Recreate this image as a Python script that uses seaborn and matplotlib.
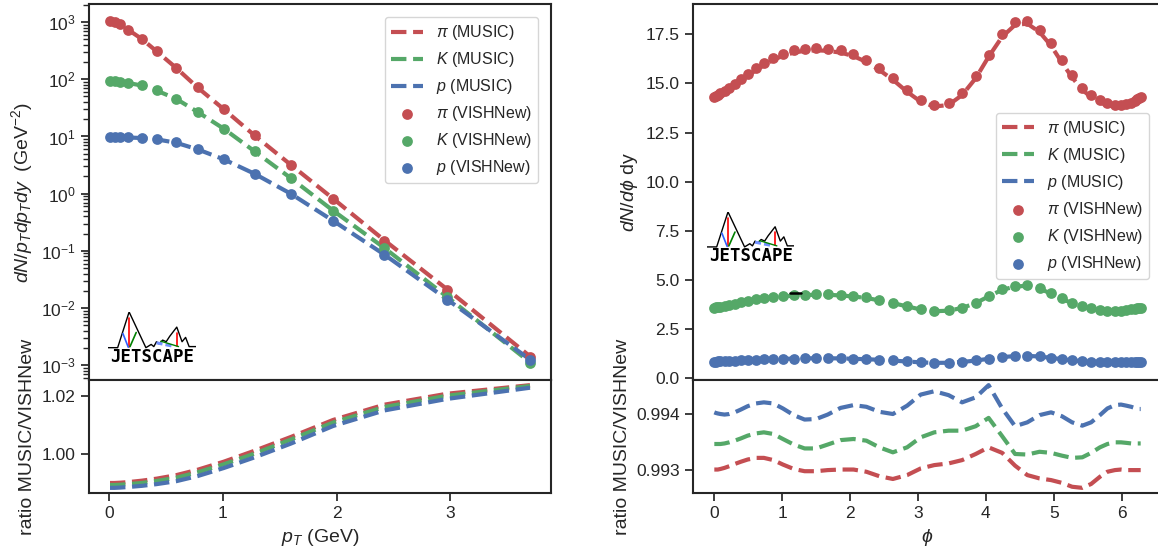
import matplotlib
matplotlib.use('Agg')
import matplotlib.pyplot as plt
import seaborn as sns
import numpy as np

sns.set_theme(style='ticks', palette='deep')
plt.rcParams['font.family'] = ['Liberation Sans', 'DejaVu Sans']
plt.rcParams['mathtext.fontset'] = 'custom'
plt.rcParams['mathtext.rm'] = 'Liberation Sans'
plt.rcParams['mathtext.it'] = 'Liberation Sans:italic'
plt.rcParams['axes.linewidth'] = 1.5

# ---- pT spectra (left) ----
pt = [0.01, 0.05, 0.10, 0.17, 0.29, 0.42, 0.59, 0.78, 1.01, 1.28, 1.60, 1.97, 2.42, 2.97, 3.70]
pion_vish = [1040, 1000, 930, 740, 510, 310, 160, 72, 30, 10.4, 3.16, 0.81, 0.151, 0.021, 0.0014]
kaon_vish = [92, 92, 91, 87, 78.5, 64, 46, 27, 13.7, 5.5, 1.85, 0.50, 0.111, 0.0155, 0.0011]
proton_vish = [9.9, 9.9, 9.85, 9.7, 9.5, 9.0, 7.85, 6.0, 4.0, 2.23, 0.99, 0.333, 0.085, 0.014, 0.00123]

pion_ratio_pt = [0.9898, 0.9898, 0.9899, 0.9901, 0.9906, 0.9913, 0.9925, 0.9944, 0.9972, 1.0010,
                 1.0058, 1.0117, 1.0170, 1.0208, 1.0238]
kaon_ratio_pt = [0.9891, 0.9891, 0.9892, 0.9894, 0.9898, 0.9905, 0.9916, 0.9935, 0.9963, 1.0000,
                 1.0049, 1.0108, 1.0162, 1.0201, 1.0235]
proton_ratio_pt = [0.9881, 0.9881, 0.9882, 0.9884, 0.9888, 0.9894, 0.9904, 0.9922, 0.9950, 0.9987,
                   1.0035, 1.0096, 1.0150, 1.0190, 1.0229]

# ---- dN/dphi (right) ----
phi = [0.00, 0.02, 0.05, 0.09, 0.15, 0.22, 0.30, 0.39, 0.49, 0.61, 0.73, 0.87, 1.01, 1.17, 1.33, 1.50,
       1.67, 1.86, 2.05, 2.24, 2.43, 2.63, 2.84, 3.04, 3.24, 3.45, 3.65, 3.85, 4.04, 4.24, 4.43, 4.61,
       4.79, 4.96, 5.12, 5.27, 5.42, 5.55, 5.68, 5.79, 5.90, 5.99, 6.07, 6.14, 6.19, 6.23, 6.26, 6.28]
pion_phi = [14.32, 14.36, 14.42, 14.50, 14.62, 14.77, 14.97, 15.22, 15.48, 15.78, 16.03, 16.32, 16.52, 16.69,
            16.78, 16.81, 16.78, 16.69, 16.51, 16.21, 15.80, 15.30, 14.68, 14.17, 13.92, 14.00, 14.51, 15.37,
            16.47, 17.50, 18.11, 18.18, 17.75, 17.05, 16.18, 15.42, 14.79, 14.40, 14.14, 13.98, 13.92, 13.91,
            13.95, 14.03, 14.12, 14.20, 14.27, 14.32]
kaon_phi = [3.58, 3.59, 3.61, 3.63, 3.67, 3.72, 3.78, 3.85, 3.93, 4.01, 4.07, 4.13, 4.17, 4.21, 4.24, 4.26,
            4.26, 4.22, 4.17, 4.09, 3.97, 3.83, 3.66, 3.50, 3.41, 3.44, 3.58, 3.83, 4.17, 4.51, 4.68, 4.72,
            4.58, 4.31, 4.04, 3.83, 3.66, 3.54, 3.46, 3.42, 3.41, 3.42, 3.45, 3.49, 3.52, 3.55, 3.57, 3.58]
proton_phi = [0.82, 0.82, 0.83, 0.83, 0.84, 0.85, 0.86, 0.88, 0.90, 0.92, 0.94, 0.96, 0.97, 0.98, 0.99, 1.00,
              1.00, 0.99, 0.97, 0.95, 0.92, 0.88, 0.83, 0.79, 0.76, 0.77, 0.81, 0.88, 0.97, 1.06, 1.11, 1.12,
              1.09, 1.02, 0.95, 0.89, 0.85, 0.82, 0.80, 0.79, 0.79, 0.79, 0.80, 0.80, 0.81, 0.81, 0.82, 0.82]

pion_ratio_phi = [0.99300, 0.99300, 0.99300, 0.99301, 0.99303, 0.99306, 0.99310, 0.99314, 0.99318, 0.99321,
                  0.99321, 0.99317, 0.99309, 0.99301, 0.99297, 0.99297, 0.99299, 0.99300, 0.99300, 0.99296,
                  0.99288, 0.99283, 0.99290, 0.99302, 0.99308, 0.99311, 0.99317, 0.99328, 0.99340, 0.99330,
                  0.99307, 0.99290, 0.99284, 0.99281, 0.99276, 0.99269, 0.99267, 0.99274, 0.99287, 0.99296,
                  0.99299, 0.99300, 0.99299, 0.99299, 0.99299, 0.99299, 0.99299, 0.99299]
kaon_ratio_phi = [0.99346, 0.99346, 0.99346, 0.99346, 0.99347, 0.99349, 0.99352, 0.99356, 0.99361, 0.99365,
                  0.99367, 0.99364, 0.99355, 0.99345, 0.99338, 0.99338, 0.99345, 0.99353, 0.99355, 0.99352,
                  0.99340, 0.99331, 0.99340, 0.99358, 0.99367, 0.99370, 0.99370, 0.99378, 0.99393, 0.99360,
                  0.99328, 0.99327, 0.99332, 0.99330, 0.99325, 0.99321, 0.99322, 0.99330, 0.99340, 0.99346,
                  0.99349, 0.99349, 0.99348, 0.99347, 0.99347, 0.99347, 0.99347, 0.99347]
proton_ratio_phi = [0.99403, 0.99402, 0.99401, 0.99400, 0.99399, 0.99400, 0.99403, 0.99408, 0.99414, 0.99419,
                    0.99421, 0.99419, 0.99410, 0.99398, 0.99390, 0.99391, 0.99399, 0.99411, 0.99416, 0.99413,
                    0.99404, 0.99400, 0.99415, 0.99435, 0.99441, 0.99434, 0.99421, 0.99430, 0.99452, 0.99410,
                    0.99378, 0.99385, 0.99398, 0.99403, 0.99396, 0.99385, 0.99379, 0.99385, 0.99398, 0.99410,
                    0.99416, 0.99417, 0.99415, 0.99413, 0.99411, 0.99410, 0.99409, 0.99409]

# stray black dash seen in the right panel
stray_phi = [1.12, 1.28]
stray_y = [4.33, 4.33]

species = [r'$\pi$', r'$K$', r'$p$']
deep = sns.color_palette('deep')
colors = [deep[3], deep[2], deep[0]]

TICK_FS = 12.5
LABEL_FS = 14
LEG_FS = 11.5


def draw_logo(ax, rect):
    """Small JETSCAPE logo drawn with lines + text"""
    lax = ax.inset_axes(rect)
    lax.set_xlim(0, 1)
    lax.set_ylim(0, 1)
    lax.axis('off')
    mx = [0.0, 0.11, 0.24, 0.43, 0.49, 0.52, 0.55, 0.58, 0.62, 0.66, 0.70, 0.78, 0.84, 0.88, 0.92, 1.0]
    my = [0.34, 0.34, 1.0, 0.34, 0.40, 0.36, 0.45, 0.41, 0.48, 0.45, 0.55, 0.72, 0.45, 0.53, 0.36, 0.36]
    lax.plot(mx, my, color='black', lw=1.0)
    lax.plot([0.24, 0.24], [0.88, 0.36], color='red', lw=1.2)
    lax.plot([0.17, 0.23], [0.60, 0.35], color='#3060ff', lw=1.2)
    lax.plot([0.25, 0.32], [0.36, 0.62], color='green', lw=1.2)
    lax.plot([0.78, 0.78], [0.62, 0.37], color='red', lw=1.2)
    lax.plot([0.55, 0.73], [0.43, 0.37], color='#7090ff', lw=2.2, ls=(0, (2, 1)))
    lax.plot([0.60, 0.80], [0.46, 0.36], color='green', lw=1.0)
    lax.text(0.5, 0.0, 'JETSCAPE', ha='center', va='bottom', fontsize=12.5,
             family='DejaVu Sans Mono', weight='bold', color='black')


W, H = 1158, 556
fig = plt.figure(figsize=(W / 100, H / 100), dpi=100)

top_b, top_h = 1 - 380 / H, 376 / H
low_b, low_h = 1 - 493 / H, 113 / H
left_x, left_w = 89 / W, 462 / W
right_x, right_w = 693 / W, 469 / W

ax1 = fig.add_axes([left_x, top_b, left_w, top_h])
ax1r = fig.add_axes([left_x, low_b, left_w, low_h], sharex=ax1)
ax2 = fig.add_axes([right_x, top_b, right_w, top_h])
ax2r = fig.add_axes([right_x, low_b, right_w, low_h], sharex=ax2)

vish_pt = [pion_vish, kaon_vish, proton_vish]
ratio_pt = [pion_ratio_pt, kaon_ratio_pt, proton_ratio_pt]
vish_phi = [pion_phi, kaon_phi, proton_phi]
ratio_phi = [pion_ratio_phi, kaon_ratio_phi, proton_ratio_phi]

# ---- left: spectra ----
for lab, col, v, r in zip(species, colors, vish_pt, ratio_pt):
    music = np.array(v) * np.array(r)
    sns.lineplot(x=pt, y=music, ax=ax1, color=col, lw=3, ls='--', label=f'{lab} (MUSIC)')
for lab, col, v in zip(species, colors, vish_pt):
    sns.scatterplot(x=pt, y=v, ax=ax1, color=col, s=60, linewidth=0, label=f'{lab} (VISHNew)', zorder=3)
ax1.set_yscale('log')
ax1.set_ylabel(r'$dN/p_T dp_T dy$  (GeV$^{-2}$)', fontsize=LABEL_FS)
ax1.legend(loc='upper right', fontsize=LEG_FS, borderaxespad=0.8)
ax1.tick_params(axis='x', bottom=False, labelbottom=False)
ax1.tick_params(axis='y', labelsize=TICK_FS)
draw_logo(ax1, [0.041, 0.037, 0.191, 0.144])

for col, r in zip(colors, ratio_pt):
    sns.lineplot(x=pt, y=r, ax=ax1r, color=col, lw=3, ls='--')
ax1r.set_yticks([1.00, 1.02])
ax1r.set_yticklabels(['1.00', '1.02'])
ax1r.set_xticks([0, 1, 2, 3])
ax1r.set_xlabel(r'$p_T$ (GeV)', fontsize=LABEL_FS)
ax1r.set_ylabel('ratio MUSIC/VISHNew', fontsize=LABEL_FS)
ax1r.tick_params(labelsize=TICK_FS)

# ---- right: dN/dphi ----
for lab, col, v, r in zip(species, colors, vish_phi, ratio_phi):
    music = np.array(v) * np.array(r)
    sns.lineplot(x=phi, y=music, ax=ax2, color=col, lw=3, ls='--', label=f'{lab} (MUSIC)')
for lab, col, v in zip(species, colors, vish_phi):
    sns.scatterplot(x=phi, y=v, ax=ax2, color=col, s=60, linewidth=0, label=f'{lab} (VISHNew)', zorder=3)
ax2.plot(stray_phi, stray_y, color='black', lw=1.8, zorder=4)
ax2.set_ylabel(r'$dN/d\phi$ dy', fontsize=LABEL_FS)
ax2.legend(loc='upper right', bbox_to_anchor=(1.0, 0.745), fontsize=LEG_FS, borderaxespad=0.8)
ax2.tick_params(axis='x', bottom=False, labelbottom=False)
ax2.tick_params(axis='y', labelsize=TICK_FS)
draw_logo(ax2, [0.03, 0.306, 0.186, 0.141])

for col, r in zip(colors, ratio_phi):
    sns.lineplot(x=phi, y=r, ax=ax2r, color=col, lw=3, ls='--')
ax2r.set_yticks([0.993, 0.994])
ax2r.set_yticklabels(['0.993', '0.994'])
ax2r.set_xticks([0, 1, 2, 3, 4, 5, 6])
ax2r.set_xlabel(r'$\phi$', fontsize=LABEL_FS)
ax2r.set_ylabel('ratio MUSIC/VISHNew', fontsize=LABEL_FS)
ax2r.tick_params(labelsize=TICK_FS)

fig.savefig('out.png', dpi=100)
